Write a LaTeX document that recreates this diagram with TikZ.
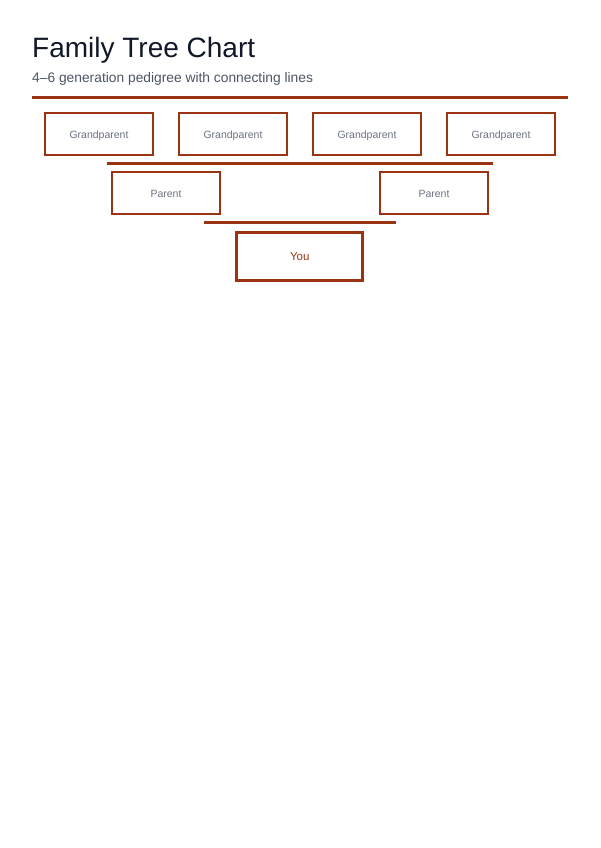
\documentclass[tikz,border=0pt]{standalone}
\usepackage{fontspec}
\setmainfont{Liberation Sans}
\definecolor{rust}{HTML}{9A3412}
\definecolor{titlecol}{HTML}{111827}
\definecolor{subcol}{HTML}{4B5563}
\definecolor{boxtext}{HTML}{6B7280}
\begin{document}
\begin{tikzpicture}[x=1pt,y=-1pt,
  personbox/.style={draw=rust, line width=2pt, minimum width=108pt, minimum height=42pt,
    inner sep=0pt, text height=9pt, text depth=0pt, font=\fontsize{10.5}{12}\selectfont, text=boxtext},
  youbox/.style={draw=rust, line width=3pt, minimum width=126pt, minimum height=48pt,
    inner sep=0pt, text height=8pt, text depth=0pt, font=\fontsize{11.5}{13}\selectfont, text=rust},
  bar/.style={draw=rust, line width=3pt},
  rule/.style={draw=rust, line width=3pt}]
\useasboundingbox (0,0) rectangle (600,848);
\node[anchor=base west, inner sep=0pt, text=titlecol, font=\fontsize{28}{32}\selectfont] (title) at (32,58) {Family Tree Chart};
\node[anchor=base west, inner sep=0pt, text=subcol, font=\fontsize{13.8}{16}\selectfont] (subtitle) at (32,83) {4–6 generation pedigree with connecting lines};
\coordinate (r1) at (32,98);
\coordinate (r2) at (568,98);
\draw[rule] (r1) -- (r2);
\node[personbox] (g1) at (99,134) {Grandparent};
\node[personbox] (g2) at (233,134) {Grandparent};
\node[personbox] (g3) at (367,134) {Grandparent};
\node[personbox] (g4) at (501,134) {Grandparent};
\coordinate (b1l) at (107,163);
\coordinate (b1r) at (493,163);
\draw[bar] (b1l) -- (b1r);
\node[personbox] (p1) at (166,193) {Parent};
\node[personbox] (p2) at (434,193) {Parent};
\coordinate (b2l) at (204,222.3);
\coordinate (b2r) at (396,222.3);
\draw[bar, line width=2.7pt] (b2l) -- (b2r);
\node[youbox] (you) at (299.7,256) {You};
\end{tikzpicture}
\end{document}
